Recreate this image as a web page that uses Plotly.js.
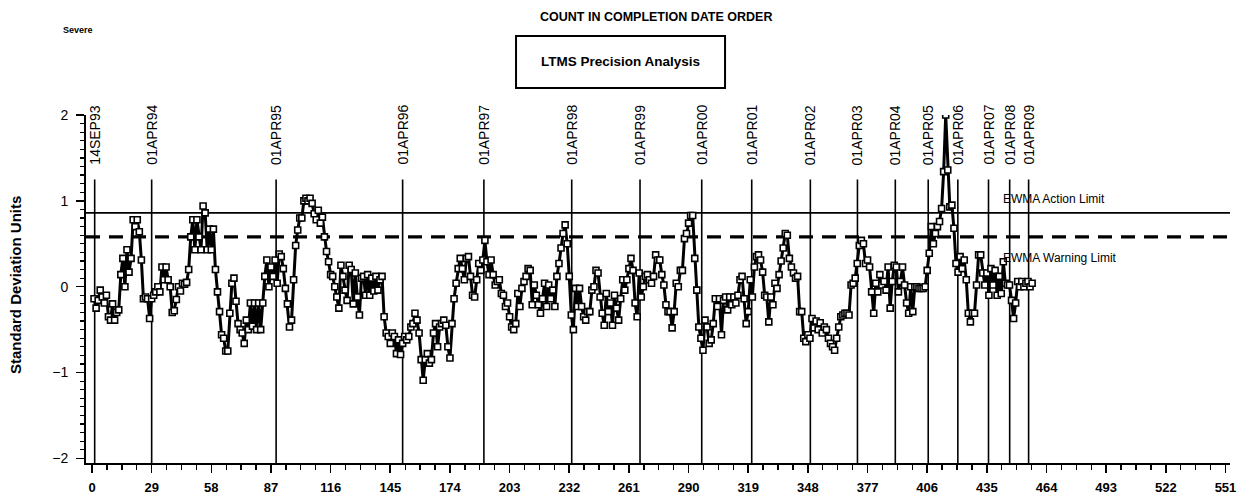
<!DOCTYPE html>
<html>
<head>
<meta charset="utf-8">
<script src="https://cdn.plot.ly/plotly-3.0.1.min.js"></script>
<style>
  html, body { margin: 0; padding: 0; background: #fff; }
  #chart { width: 1249px; height: 502px; }
</style>
</head>
<body>
<div id="chart"></div>
<script>
// ---- data ----
const ewmaValues = [
  -0.14,-0.25,-0.16,-0.04,-0.12,-0.19,-0.10,-0.35,-0.39,-0.20,
  -0.39,-0.30,-0.27,0.14,0.33,0.00,0.43,0.17,0.33,0.78,
  0.70,0.78,0.64,0.31,-0.14,-0.12,-0.14,-0.37,-0.14,-0.10,
  -0.06,0.00,-0.06,0.23,0.08,0.23,0.08,0.00,-0.30,-0.28,
  -0.15,0.00,-0.05,0.04,0.03,0.05,0.20,0.58,0.78,0.43,
  0.78,0.58,0.43,0.94,0.86,0.43,0.67,0.43,0.67,0.20,
  -0.06,-0.29,-0.56,-0.60,-0.75,-0.75,-0.31,0.04,0.10,-0.17,
  -0.43,-0.50,-0.54,-0.66,-0.39,-0.50,-0.19,-0.46,-0.19,-0.50,
  -0.19,-0.50,-0.19,0.12,0.31,0.00,0.23,0.12,0.31,0.04,
  0.38,0.35,0.21,-0.02,-0.20,-0.47,-0.39,0.08,0.48,0.66,
  0.80,0.80,1.00,1.03,1.00,1.03,0.97,0.85,0.78,0.89,
  0.74,0.81,0.58,0.41,0.29,0.14,0.12,0.00,-0.12,-0.25,
  0.25,0.12,-0.04,-0.16,0.25,0.20,-0.20,0.16,-0.12,-0.33,
  0.10,0.12,-0.10,0.14,-0.10,0.10,-0.05,0.12,-0.04,0.08,
  0.12,-0.35,-0.54,-0.58,-0.66,-0.54,-0.58,-0.78,-0.62,-0.79,
  -0.66,-0.58,-0.62,-0.58,-0.47,-0.43,-0.31,-0.39,-0.54,-0.85,
  -1.09,-0.85,-0.78,-0.89,-0.85,-0.54,-0.43,-0.70,-0.47,-0.43,
  -0.39,-0.45,-0.70,-0.83,-0.43,-0.14,0.04,0.21,0.33,0.21,
  0.08,0.33,0.35,0.12,-0.10,-0.12,0.08,0.27,0.19,0.31,
  0.54,0.29,0.14,0.31,0.14,0.02,0.06,0.08,-0.08,-0.10,
  -0.23,-0.19,-0.35,-0.47,-0.50,-0.43,-0.08,-0.23,-0.02,0.06,
  0.12,0.21,0.19,-0.21,0.02,-0.10,-0.21,-0.31,-0.14,0.04,
  -0.23,0.02,-0.14,-0.04,-0.23,0.12,0.27,0.45,0.62,0.72,
  0.50,0.12,-0.33,-0.50,-0.02,-0.23,-0.02,-0.23,-0.35,-0.39,
  -0.29,-0.29,-0.04,0.00,0.19,0.16,-0.12,-0.31,-0.45,-0.08,
  -0.29,-0.19,-0.45,-0.10,-0.25,-0.39,-0.14,0.08,-0.04,0.08,
  0.21,0.33,0.19,-0.19,-0.35,0.16,-0.12,0.00,0.12,0.14,
  0.08,0.04,0.12,0.37,0.31,0.31,0.14,0.02,-0.21,-0.29,
  -0.29,-0.48,-0.29,0.04,0.00,0.19,0.19,0.56,0.62,0.74,
  0.83,0.83,0.33,-0.04,-0.47,-0.60,-0.74,-0.39,-0.47,-0.66,
  -0.62,-0.43,-0.14,-0.23,-0.14,-0.56,-0.16,-0.12,-0.27,-0.12,
  -0.21,-0.12,-0.19,-0.10,0.08,0.12,-0.14,-0.43,-0.29,0.08,
  -0.12,0.23,0.35,0.37,0.31,0.17,-0.10,-0.12,-0.41,-0.12,
  -0.21,0.04,-0.02,0.14,0.30,0.45,0.62,0.60,0.33,0.23,
  0.16,0.10,0.12,-0.29,-0.29,-0.60,-0.64,-0.56,-0.60,-0.37,
  -0.48,-0.40,-0.50,-0.42,-0.54,-0.47,-0.50,-0.60,-0.66,-0.70,
  -0.74,-0.60,-0.47,-0.35,-0.33,-0.31,-0.31,-0.33,0.02,0.04,
  0.10,0.27,0.48,0.54,0.50,0.27,0.31,0.23,-0.06,-0.31,
  0.04,-0.06,0.14,0.02,0.06,-0.04,0.23,-0.25,0.06,0.25,
  0.23,-0.06,0.06,0.23,0.02,-0.19,-0.31,0.00,-0.29,0.00,
  0.00,-0.02,-0.02,-0.02,0.00,0.19,0.39,0.70,0.50,0.62,
  0.70,0.76,0.91,1.34,2.00,1.36,0.93,0.95,0.68,0.27,
  0.17,0.35,0.21,0.31,0.08,-0.31,-0.41,-0.31,-0.31,0.02,
  0.37,0.37,0.16,0.02,0.16,-0.10,0.21,0.02,0.19,-0.10,
  0.12,-0.08,0.29,0.04,0.02,0.02,-0.16,-0.37,-0.19,0.06,
  0.00,0.06,0.00,0.04,0.06,0.00,0.04
];
const testCounts = ewmaValues.map((v, i) => i + 1);

const dateLabels = ["14SEP93","01APR94","01APR95","01APR96","01APR97","01APR98","01APR99",
  "01APR00","01APR01","01APR02","01APR03","01APR04","01APR05","01APR06","01APR07","01APR08","01APR09"];
const datePositions = [1.3, 29, 89.5, 151, 190.5, 233.2, 266.4, 296.4, 320.7, 349.2,
  372.1, 390.5, 406.5, 420.9, 435.8, 446.1, 455.3];

const xTickVals = [0, 29, 58, 87, 116, 145, 174, 203, 232, 261, 290, 319, 348, 377, 406, 435, 464, 493, 522, 551];
const yTickVals = [-2, -1, 0, 1, 2];

const actionLimit = 0.86;
const warningLimit = 0.58;

const titleText = "COUNT IN COMPLETION DATE ORDER";
const boxText = "LTMS Precision Analysis";
const cornerText = "Severe";
const yTitleText = "Standard Deviation Units";
const actionText = "EWMA Action Limit";
const warningText = "EWMA Warning Limit";

// ---- chart ----
const SANS = "Liberation Sans, Arial, sans-serif";

const trace = {
  x: testCounts,
  y: ewmaValues,
  type: "scatter",
  mode: "lines+markers",
  line: { color: "#000", width: 3 },
  marker: { symbol: "square", size: 6, color: "#fff", line: { color: "#000", width: 1.6 } },
  hoverinfo: "x+y",
  showlegend: false
};

const LINE_TOP = 1.25;
const shapes = [];
datePositions.forEach(p => {
  shapes.push({ type: "line", xref: "x", yref: "y", x0: p, x1: p, y0: -2.054, y1: LINE_TOP,
    line: { color: "#000", width: 1.6 }, layer: "below" });
});
shapes.push({ type: "line", xref: "paper", yref: "y", x0: 0, x1: 1, y0: actionLimit, y1: actionLimit,
  line: { color: "#000", width: 1.8 }, layer: "below" });
shapes.push({ type: "line", xref: "paper", yref: "y", x0: 0, x1: 1, y0: warningLimit, y1: warningLimit,
  line: { color: "#000", width: 3.2, dash: "14px,9px" }, layer: "below" });
// title box
shapes.push({ type: "rect", xref: "paper", yref: "paper", x0: 0.3759, x1: 0.5586, y0: 1.0775, y1: 1.2268,
  line: { color: "#000", width: 2 }, fillcolor: "rgba(0,0,0,0)" });

const annotations = [];
datePositions.forEach((p, i) => {
  annotations.push({ x: p, y: 0.9426, xref: "x", yref: "paper", text: dateLabels[i], showarrow: false,
    textangle: -90, xanchor: "center", yanchor: "middle",
    font: { family: SANS, size: 14, color: "#000" } });
});
annotations.push({ x: 442, y: actionLimit + 0.16, xref: "x", yref: "y", text: actionText, showarrow: false,
  xanchor: "left", yanchor: "middle", font: { family: SANS, size: 12, color: "#000" } });
annotations.push({ x: 442, y: warningLimit - 0.24, xref: "x", yref: "y", text: warningText, showarrow: false,
  xanchor: "left", yanchor: "middle", font: { family: SANS, size: 12, color: "#000" } });
annotations.push({ x: 0.4983, y: 1.2814, xref: "paper", yref: "paper", text: "<b>" + titleText + "</b>",
  showarrow: false, xanchor: "center", yanchor: "middle", font: { family: SANS, size: 12.5, color: "#000" } });
annotations.push({ x: 0.4668, y: 1.155, xref: "paper", yref: "paper", text: "<b>" + boxText + "</b>",
  showarrow: false, xanchor: "center", yanchor: "middle", font: { family: SANS, size: 13.5, color: "#000" } });
annotations.push({ x: -0.0219, y: 1.244, xref: "paper", yref: "paper", text: "<b>" + cornerText + "</b>",
  showarrow: false, xanchor: "left", yanchor: "middle", font: { family: SANS, size: 9, color: "#000" } });
annotations.push({ x: -0.061, y: 0.512, xref: "paper", yref: "paper", text: "<b>" + yTitleText + "</b>",
  showarrow: false, textangle: -90, xanchor: "center", yanchor: "middle",
  font: { family: SANS, size: 15, color: "#000" } });

const layout = {
  width: 1249, height: 502,
  margin: { l: 86, r: 19, t: 115, b: 39, pad: 0 },
  paper_bgcolor: "#fff", plot_bgcolor: "#fff",
  showlegend: false,
  xaxis: {
    range: [-2.92, 553.2], tickmode: "array", tickvals: xTickVals, ticktext: xTickVals.map(String),
    ticks: "outside", ticklen: 8, tickwidth: 1.6, tickcolor: "#000",
    minor: { dtick: 7.25, tick0: 0, ticks: "outside", ticklen: 5, tickwidth: 1.4, tickcolor: "#000", showgrid: false },
    showline: true, linecolor: "#000", linewidth: 2, mirror: false,
    showgrid: false, zeroline: false,
    tickfont: { family: SANS, size: 13, color: "#000", weight: "bold" },
    ticklabelstandoff: 3
  },
  yaxis: {
    range: [-2.054, 2.0], tickmode: "array", tickvals: yTickVals, ticktext: yTickVals.map(v => v < 0 ? "\u2212" + Math.abs(v) : String(v)),
    ticks: "outside", ticklen: 8, tickwidth: 1.6, tickcolor: "#000",
    minor: { dtick: 0.1, tick0: 0, ticks: "outside", ticklen: 4, tickwidth: 1.2, tickcolor: "#000", showgrid: false },
    showline: true, linecolor: "#000", linewidth: 2, mirror: false,
    showgrid: false, zeroline: false,
    tickfont: { family: SANS, size: 14, color: "#000" },
    ticklabelstandoff: 5
  },
  shapes: shapes,
  annotations: annotations
};

Plotly.newPlot("chart", [trace], layout, { displayModeBar: false, staticPlot: true });
</script>
</body>
</html>
